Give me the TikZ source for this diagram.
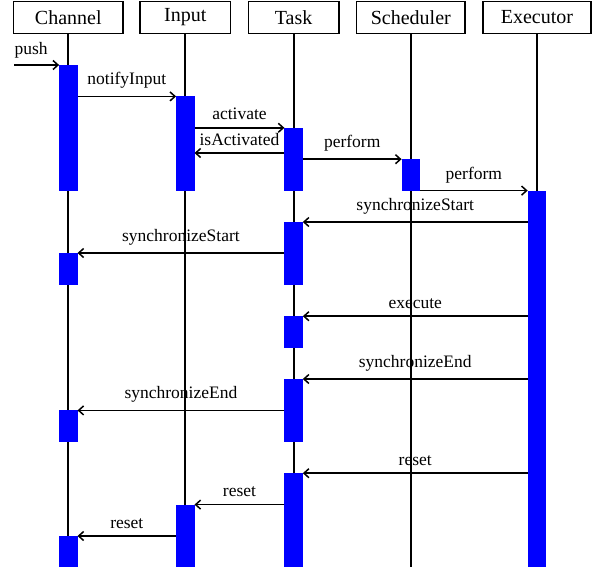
\documentclass[tikz,border=0pt]{standalone}
\usepackage{fontspec}
\setmainfont{Liberation Serif}
\usetikzlibrary{arrows.meta}
\tikzset{
  head/.style={draw, line width=1.5pt, minimum height=32pt, inner sep=0pt, font=\fontsize{20}{24}\selectfont},
  life/.style={line width=1.8pt},
  bar/.style={fill=blue, draw=none, inner sep=0pt, outer sep=0pt, minimum width=18.4pt},
  msg/.style={line width=1.5pt, -{Straight Barb[length=5pt,width=9pt]}},
  lbl/.style={anchor=south, yshift=7pt, inner sep=0pt, font=\fontsize{17.5}{21}\selectfont}
}
\newcommand{\actbar}[4]{\node[bar, minimum height={(#4-#3)*1pt}] (#1) at (#2,{(#3+#4)/2}) {};}
\begin{document}
\begin{tikzpicture}[x=1pt,y=-1pt]
\useasboundingbox (0,0) rectangle (594,571);
% headers
\node[head, minimum width=109.4pt] (hC) at (68.3,17.3) {Channel};
\node[head, minimum width=90.7pt] (hI) at (185.3,17.3) {Input};
\node[head, minimum width=90.7pt] (hT) at (293.6,17.3) {Task};
\node[head, minimum width=108.3pt] (hS) at (410.8,17.3) {Scheduler};
\node[head, minimum width=108.3pt] (hE) at (536.9,17.3) {Executor};
\coordinate (bot) at (0,567.4);
% lifelines
\foreach \h in {hC,hI,hT,hS,hE}{\draw[life] (\h.south) -- (\h.south |- bot);}
% activation bars
\actbar{cb1}{68.3}{65}{190.7}
\actbar{cb2}{68.3}{253}{284.8}
\actbar{cb3}{68.3}{410.4}{441.8}
\actbar{cb4}{68.3}{536}{567.4}
\actbar{ib1}{185.3}{96.4}{190.7}
\actbar{ib2}{185.3}{504.6}{567.4}
\actbar{tb1}{293.6}{127.8}{190.7}
\actbar{tb2}{293.6}{222}{284.8}
\actbar{tb3}{293.6}{316.2}{347.6}
\actbar{tb4}{293.6}{379}{441.8}
\actbar{tb5}{293.6}{473.2}{567.4}
\actbar{sb1}{410.8}{159.2}{190.7}
\actbar{eb1}{536.9}{190.6}{567.4}
% messages
\coordinate (pushstart) at (14.3,65);
\coordinate (isa) at (0,153);
\draw[msg] (pushstart) -- (cb1.north west);
\node[anchor=south west, inner sep=0pt, yshift=7pt, font=\fontsize{17.5}{21}\selectfont] (pushlbl) at (pushstart) {push};
\draw[msg] (cb1.east |- ib1.north) -- node[lbl]{notifyInput} (ib1.north west);
\draw[msg] (ib1.east |- tb1.north) -- node[lbl]{activate} (tb1.north west);
\draw[msg] (tb1.west |- isa) -- node[lbl]{isActivated} (ib1.east |- isa);
\draw[msg] (tb1.east |- sb1.north) -- node[lbl]{perform} (sb1.north west);
\draw[msg] (sb1.east |- eb1.north) -- node[lbl]{perform} (eb1.north west);
\draw[msg] (eb1.west |- tb2.north) -- node[lbl]{synchronizeStart} (tb2.north east);
\draw[msg] (tb2.west |- cb2.north) -- node[lbl]{synchronizeStart} (cb2.north east);
\draw[msg] (eb1.west |- tb3.north) -- node[lbl]{execute} (tb3.north east);
\draw[msg] (eb1.west |- tb4.north) -- node[lbl]{synchronizeEnd} (tb4.north east);
\draw[msg] (tb4.west |- cb3.north) -- node[lbl]{synchronizeEnd} (cb3.north east);
\draw[msg] (eb1.west |- tb5.north) -- node[lbl]{reset} (tb5.north east);
\draw[msg] (tb5.west |- ib2.north) -- node[lbl]{reset} (ib2.north east);
\draw[msg] (ib2.west |- cb4.north) -- node[lbl]{reset} (cb4.north east);
\end{tikzpicture}
\end{document}
